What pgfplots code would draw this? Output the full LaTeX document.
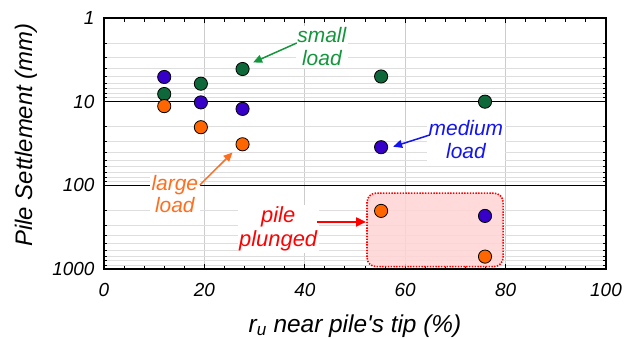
\documentclass[border=0pt]{standalone}
\usepackage{fontspec}
\setmainfont{Liberation Sans}[Ligatures=TeXOff]
\usepackage{pgfplots}
\pgfplotsset{compat=1.18}
\usetikzlibrary{arrows.meta}
\definecolor{mgreen}{RGB}{14,104,58}
\definecolor{mblue}{RGB}{55,0,200}
\definecolor{morange}{RGB}{255,102,0}
\definecolor{tgreen}{RGB}{20,150,60}
\definecolor{tblue}{RGB}{20,20,240}
\definecolor{torange}{RGB}{255,110,30}
\definecolor{tred}{RGB}{255,0,0}
\definecolor{boxpink}{RGB}{255,212,212}
\begin{document}
\begin{tikzpicture}
\begin{axis}[
  at={(0,0)}, anchor=south west,
  width=502bp, height=251bp, scale only axis,
  xmin=0, xmax=100, ymin=1, ymax=1000, ymode=log, y dir=reverse,
  xtick={0,20,40,60,80,100}, xticklabels={0,20,40,60,80,100},
  minor x tick num=4,
  ytick={1,10,100,1000}, yticklabels={1,10,100,1000},
  minor ytick={2,3,4,5,6,7,8,9,20,30,40,50,60,70,80,90,200,300,400,500,600,700,800,900},
  tick label style={font=\fontsize{19}{22}\selectfont\itshape},
  xticklabel style={yshift=-11bp},
  yticklabel style={xshift=-6bp},
  xmajorgrids, ymajorgrids, yminorgrids,
  major x grid style={black!20, line width=0.9bp},
  major y grid style={black, line width=0.9bp},
  minor y grid style={black!13, line width=0.9bp},
  axis line style={line width=1.5bp},
  major tick length=5bp, minor tick length=3.5bp,
  tick style={black, line width=1bp},
  xtick pos=both, ytick pos=both,
]
\draw[tred, line width=1.6bp, dash pattern=on 1.4bp off 1.4bp, fill=boxpink, fill opacity=0.85, rounded corners=9bp]
  (axis cs:52.4,124) rectangle (axis cs:79.5,936);

\addplot[only marks, mark=*, mark size=6.6bp, mark options={fill=mgreen, draw=black, line width=0.8bp}]
  coordinates {(12,8.1) (19.3,6.1) (27.6,4.07) (55.2,5) (75.9,10)};
\addplot[only marks, mark=*, mark size=6.6bp, mark options={fill=mblue, draw=black, line width=0.8bp}]
  coordinates {(12,5.07) (19.3,10.2) (27.6,12.2) (55.2,35) (75.9,232)};
\addplot[only marks, mark=*, mark size=6.6bp, mark options={fill=morange, draw=black, line width=0.8bp}]
  coordinates {(12,11.3) (19.3,20.2) (27.6,32.3) (55.2,202) (75.9,711)};

\node[fill=white, text=tgreen, align=center, inner sep=1.5bp, font=\fontsize{21}{23}\selectfont\itshape]
  at (axis cs:43.4,2.22) {small\\load};
\draw[tgreen, line width=1.5bp, -{Triangle[length=9bp,width=8bp]}] (axis cs:38.4,1.99) -- (axis cs:29.7,3.4);

\node[fill=white, text=tblue, align=center, inner sep=1.5bp, font=\fontsize{21}{23}\selectfont\itshape]
  at (axis cs:72.1,28.7) {medium\\load};
\draw[tblue, line width=1.5bp, -{Triangle[length=9bp,width=8bp]}] (axis cs:64.9,25) -- (axis cs:57.6,34.5);

\node[fill=white, text=torange, align=center, inner sep=1.5bp, font=\fontsize{21}{23}\selectfont\itshape]
  at (axis cs:14.1,127) {large\\load};
\draw[torange, line width=1.5bp, -{Triangle[length=9bp,width=8bp]}] (axis cs:19.1,99) -- (axis cs:25.6,40.5);

\node[fill=white, text=tred, align=center, inner sep=1.5bp, font=\fontsize{22}{24}\selectfont\itshape]
  at (axis cs:34.7,332) {pile\\plunged};
\draw[tred, line width=2bp, -{Triangle[length=10bp,width=9bp]}] (axis cs:42.4,274) -- (axis cs:52.2,274);
\end{axis}
\node[rotate=90, font=\fontsize{24}{27}\selectfont\itshape] at (-78bp,134bp) {Pile Settlement (mm)};
\node[anchor=base, font=\fontsize{24.5}{28}\selectfont\itshape] at (251bp,-63bp) {r\textsubscript{u} near pile's tip (\%)};
\pgfresetboundingbox
\path (-104bp,-70bp) rectangle (534bp,269bp);
\end{tikzpicture}
\end{document}
